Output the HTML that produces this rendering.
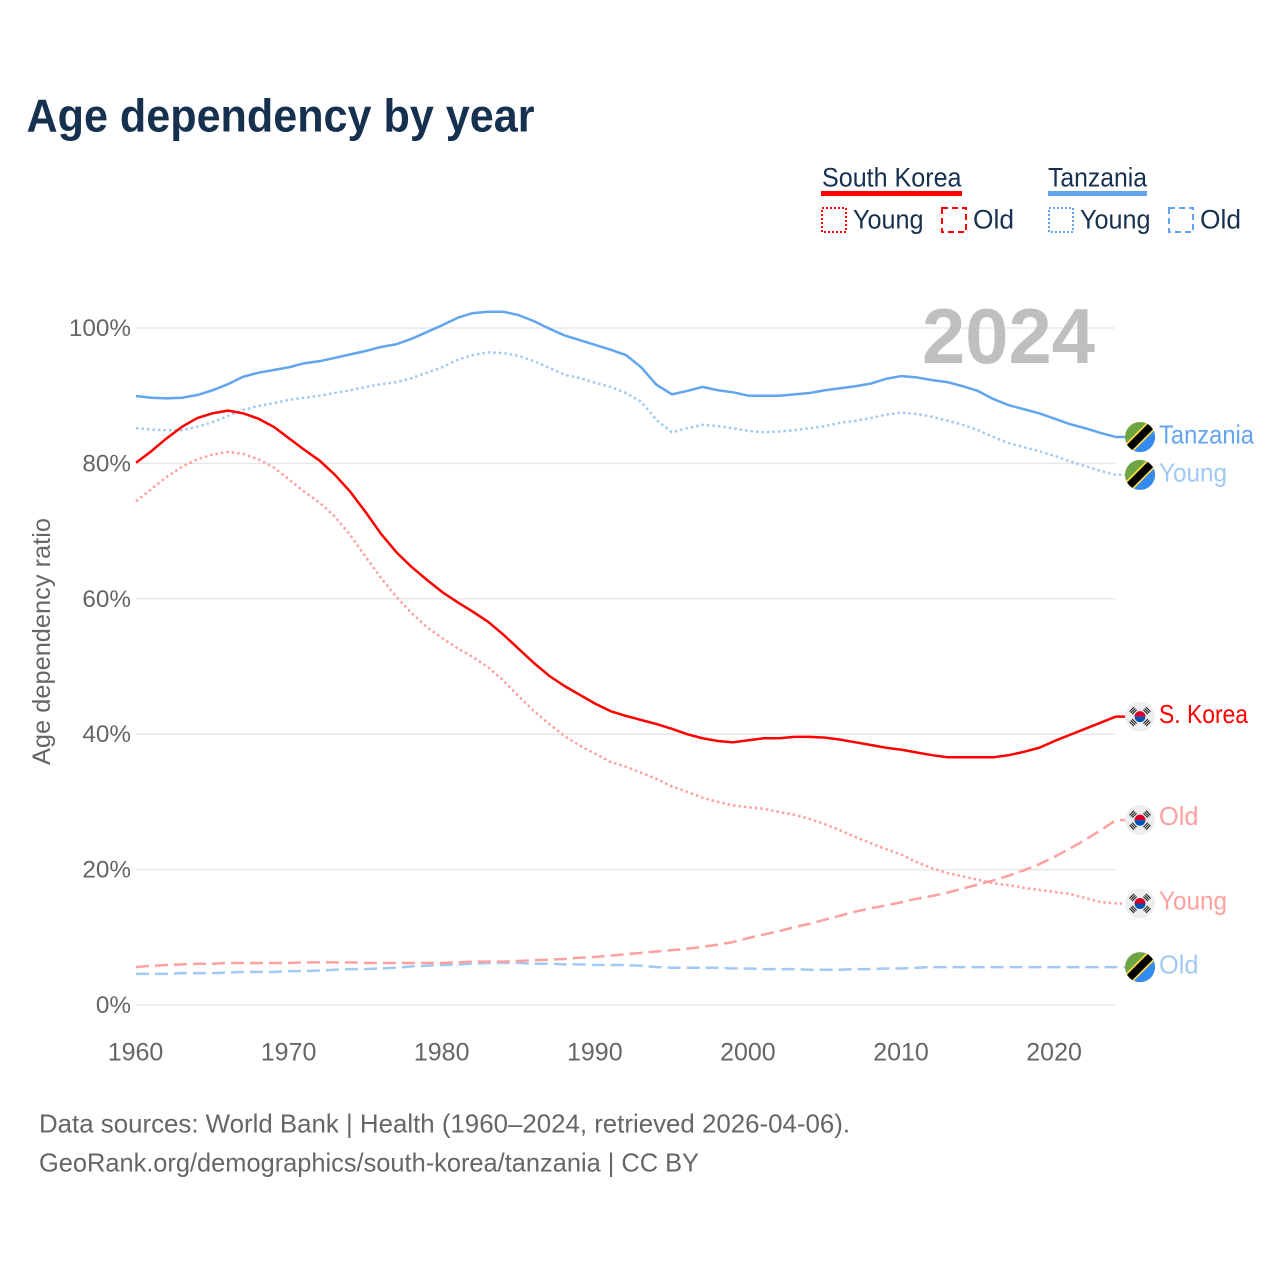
<!DOCTYPE html>
<html lang="en">
<head>
<meta charset="utf-8">
<title>Age dependency by year</title>
<style>
html,body{margin:0;padding:0;background:#fff;}
svg{display:block;font-family:"Liberation Sans",sans-serif;}
</style>
</head>
<body>
<svg id="chart" width="1280" height="1280" viewBox="0 0 1280 1280" xmlns="http://www.w3.org/2000/svg">
  <defs>
    <clipPath id="flag-clip"><circle cx="0" cy="0" r="15"/></clipPath>
    <g id="flag-tz">
      <g clip-path="url(#flag-clip)">
        <rect x="-15" y="-15" width="30" height="30" fill="#6da544"/>
        <polygon points="15,-15 15,15 -15,15" fill="#338af3"/>
        <line x1="-15" y1="15" x2="15" y2="-15" stroke="#ffda44" stroke-width="11"/>
        <line x1="-15" y1="15" x2="15" y2="-15" stroke="#000" stroke-width="7.5"/>
      </g>
    </g>
    <g id="flag-kr">
      <circle r="15" fill="#eeeeee"/>
      <path d="M-5.5,0 A5.5,5.5 0 0 1 5.5,0 Z" fill="#d80027"/>
      <path d="M-5.5,0 A5.5,5.5 0 0 0 5.5,0 Z" fill="#0052b4"/>
      <g stroke="#222" stroke-width="1.1" fill="none">
        <path d="M-10.5,-5 L-6,-9.5 M-9.2,-3.7 L-4.7,-8.2 M-7.9,-2.4 L-3.4,-6.9"/>
        <path d="M10.5,-5 L6,-9.5 M9.2,-3.7 L4.7,-8.2 M7.9,-2.4 L3.4,-6.9"/>
        <path d="M-10.5,5 L-6,9.5 M-9.2,3.7 L-4.7,8.2 M-7.9,2.4 L-3.4,6.9"/>
        <path d="M10.5,5 L6,9.5 M9.2,3.7 L4.7,8.2 M7.9,2.4 L3.4,6.9"/>
      </g>
    </g>
  </defs>

  <text x="26.5" y="131.5" font-size="46" font-weight="700" fill="#16304f" textLength="508" lengthAdjust="spacingAndGlyphs">Age dependency by year</text>

  <g font-size="27" fill="#16304f">
    <g>
      <text x="822" y="186.5" textLength="139.5" lengthAdjust="spacingAndGlyphs">South Korea</text>
      <rect x="821" y="191" width="141" height="5" fill="#ff0000"/>
      <rect x="822" y="208" width="24" height="24" fill="none" stroke="#ff0000" stroke-width="2" stroke-dasharray="2 2"/>
      <text x="853" y="228.5" textLength="70.5" lengthAdjust="spacingAndGlyphs">Young</text>
      <rect x="942" y="208" width="24" height="24" fill="none" stroke="#ff0000" stroke-width="2" stroke-dasharray="6 4"/>
      <text x="973" y="228.5" textLength="41" lengthAdjust="spacingAndGlyphs">Old</text>
    </g>
    <g>
      <text x="1048" y="186.5" textLength="99" lengthAdjust="spacingAndGlyphs">Tanzania</text>
      <rect x="1048" y="191" width="99" height="5" fill="#62a5ee"/>
      <rect x="1049" y="208" width="24" height="24" fill="none" stroke="#62a5ee" stroke-width="2" stroke-dasharray="2 2"/>
      <text x="1080" y="228.5" textLength="70.5" lengthAdjust="spacingAndGlyphs">Young</text>
      <rect x="1169" y="208" width="24" height="24" fill="none" stroke="#62a5ee" stroke-width="2" stroke-dasharray="6 4"/>
      <text x="1200" y="228.5" textLength="41" lengthAdjust="spacingAndGlyphs">Old</text>
    </g>
  </g>

  <g id="grid"></g>
  <text x="922" y="363" font-size="78" font-weight="700" fill="#bfbfbf" textLength="173" lengthAdjust="spacingAndGlyphs">2024</text>
  <g id="yticks" font-size="24.3" fill="#666666" text-anchor="end"></g>
  <g id="xticks" font-size="25" fill="#666666" text-anchor="middle"></g>
  <text transform="translate(50,641.5) rotate(-90)" font-size="25" fill="#666666" text-anchor="middle" textLength="247" lengthAdjust="spacingAndGlyphs">Age dependency ratio</text>
  <g id="series"></g>
  <g id="ends"></g>

  <text x="39" y="1132.5" font-size="26" fill="#666666" textLength="811" lengthAdjust="spacingAndGlyphs">Data sources: World Bank | Health (1960–2024, retrieved 2026-04-06).</text>
  <text x="39" y="1171.5" font-size="26" fill="#666666" textLength="660" lengthAdjust="spacingAndGlyphs">GeoRank.org/demographics/south-korea/tanzania | CC BY</text>
</svg>
<script>
var firstYear = 1960;
var yTickValues = [0, 20, 40, 60, 80, 100];
var yTickLabels = ["0%", "20%", "40%", "60%", "80%", "100%"];
var xTickValues = [1960, 1970, 1980, 1990, 2000, 2010, 2020];
var xTickLabels = ["1960", "1970", "1980", "1990", "2000", "2010", "2020"];

var tanzaniaTotal = [89.95,89.7,89.6,89.7,90.1,90.8,91.7,92.8,93.4,93.8,94.2,94.8,95.1,95.6,96.1,96.6,97.2,97.6,98.4,99.4,100.4,101.5,102.2,102.4,102.4,101.9,101.0,99.9,98.9,98.2,97.5,96.8,96.0,94.2,91.6,90.2,90.7,91.3,90.8,90.5,90.0,90.0,90.0,90.2,90.4,90.8,91.1,91.4,91.8,92.5,92.9,92.7,92.3,92.0,91.4,90.7,89.5,88.6,88.0,87.4,86.6,85.8,85.2,84.5,83.9];
var tanzaniaYoung = [85.2,85.0,84.9,84.9,85.4,86.1,87.0,87.9,88.5,88.9,89.4,89.7,90.0,90.4,90.8,91.3,91.7,92.0,92.6,93.4,94.2,95.3,96.0,96.4,96.3,95.9,95.1,94.1,93.1,92.6,91.9,91.3,90.4,89.1,86.4,84.6,85.2,85.7,85.5,85.2,84.8,84.6,84.7,84.9,85.2,85.5,86.0,86.3,86.7,87.2,87.5,87.3,86.9,86.3,85.7,84.9,83.9,83.0,82.4,81.8,81.1,80.3,79.6,78.9,78.3];
var tanzaniaOld = [4.6,4.6,4.6,4.7,4.7,4.7,4.8,4.9,4.9,4.9,5.0,5.0,5.1,5.2,5.3,5.3,5.4,5.5,5.7,5.8,5.9,6.0,6.1,6.2,6.2,6.2,6.1,6.1,6.0,6.0,5.9,5.9,5.9,5.8,5.6,5.5,5.5,5.5,5.5,5.4,5.4,5.3,5.3,5.3,5.2,5.2,5.2,5.3,5.3,5.4,5.4,5.5,5.6,5.6,5.6,5.6,5.6,5.6,5.6,5.6,5.6,5.6,5.6,5.6,5.6];
var koreaTotal = [80.1,81.8,83.7,85.4,86.7,87.4,87.8,87.4,86.6,85.4,83.7,82.0,80.4,78.3,75.8,72.8,69.6,66.9,64.7,62.8,61.0,59.5,58.1,56.6,54.7,52.6,50.5,48.6,47.1,45.8,44.5,43.4,42.7,42.1,41.5,40.8,40.0,39.4,39.0,38.8,39.1,39.4,39.4,39.6,39.6,39.5,39.2,38.8,38.4,38.0,37.7,37.3,36.9,36.6,36.6,36.6,36.6,36.9,37.4,38.0,39.0,39.9,40.8,41.7,42.6];
var koreaYoung = [74.4,76.2,78.0,79.5,80.6,81.3,81.7,81.4,80.6,79.4,77.6,75.8,74.2,72.1,69.4,66.2,63.1,60.3,57.9,55.8,54.2,52.7,51.4,49.9,47.9,45.6,43.4,41.5,39.7,38.3,37.1,35.9,35.2,34.3,33.4,32.3,31.5,30.6,30.0,29.5,29.2,29.0,28.5,28.1,27.5,26.7,25.8,24.8,23.9,23.0,22.2,21.1,20.2,19.5,19.0,18.5,18.0,17.7,17.3,17.0,16.7,16.4,15.8,15.2,15.0];
var koreaOld = [5.6,5.8,5.9,6.0,6.1,6.1,6.2,6.2,6.2,6.2,6.2,6.3,6.3,6.3,6.3,6.2,6.2,6.2,6.2,6.2,6.2,6.3,6.4,6.4,6.4,6.5,6.6,6.7,6.8,7.0,7.1,7.3,7.5,7.7,7.9,8.1,8.3,8.6,8.9,9.3,9.9,10.4,10.9,11.5,12.0,12.6,13.2,13.8,14.3,14.7,15.2,15.7,16.1,16.6,17.2,17.8,18.4,19.1,19.9,20.8,21.9,23.1,24.4,25.8,27.3];

var NS = "http://www.w3.org/2000/svg";
function xScale(year) { return 136 + (year - 1960) * 15.31; }
function yScale(v) { return 1005 - v * 6.77; }
function make(tag, attrs, parent, text) {
  var el = document.createElementNS(NS, tag);
  for (var k in attrs) el.setAttribute(k, attrs[k]);
  if (text !== undefined) el.textContent = text;
  parent.appendChild(el);
  return el;
}

var gridG = document.getElementById("grid");
var yG = document.getElementById("yticks");
yTickValues.forEach(function (v, i) {
  var ln = make("line", {x1: 136, x2: 1115, y1: yScale(v), y2: yScale(v), stroke: "#e8e8e8", "stroke-width": 1.5}, gridG);
  
  
  var t = make("text", {x: 131, y: yScale(v) + 8}, yG, yTickLabels[i]);
  
  
});

var xG = document.getElementById("xticks");
xTickValues.forEach(function (year, i) {
  var t = make("text", {x: xScale(year) - 0.5, y: 1060.5}, xG, xTickLabels[i]);
  
  
});

function drawLine(values, color, width, dash, name) {
  var pts = values.map(function (v, i) {
    return xScale(firstYear + i).toFixed(2) + "," + yScale(v).toFixed(2);
  });
  pts.push("1125," + yScale(values[values.length - 1]).toFixed(2));
  var attrs = {points: pts.join(" "), fill: "none", stroke: color, "stroke-width": width, "stroke-linejoin": "round"};
  if (dash) attrs["stroke-dasharray"] = dash;
  var line = make("polyline", attrs, document.getElementById("series"));
  
  
}

function drawEnd(values, flagId, label, color, textW, baselineOffset, name) {
  var y = yScale(values[values.length - 1]);
  var endsG = document.getElementById("ends");
  var flag = make("use", {href: "#" + flagId, x: 1140, y: y}, endsG);
  
  
  var t = make("text", {x: 1159, y: y + baselineOffset, "font-size": 26, fill: color, textLength: textW, lengthAdjust: "spacingAndGlyphs"}, endsG, label);
  
  
}

drawLine(tanzaniaOld, "#a1c9f4", 2.5, "13 6", "tanzania-old-line");
drawLine(koreaOld, "#ffa0a0", 2.5, "13 6", "south-korea-old-line");
drawLine(tanzaniaYoung, "#a1c9f4", 2.5, "2.5 3", "tanzania-young-line");
drawLine(koreaYoung, "#ffa0a0", 2.5, "2.5 3", "south-korea-young-line");
drawLine(tanzaniaTotal, "#62a5ee", 2.5, null, "tanzania-total-line");
drawLine(koreaTotal, "#ff0000", 2.5, null, "south-korea-total-line");

drawEnd(tanzaniaTotal, "flag-tz", "Tanzania", "#62a5ee", 95, 6.5, "tanzania-total");
drawEnd(tanzaniaYoung, "flag-tz", "Young", "#a1c9f4", 68, 6.5, "tanzania-young");
drawEnd(koreaTotal, "flag-kr", "S. Korea", "#ff0000", 89, 6.5, "south-korea-total");
drawEnd(koreaOld, "flag-kr", "Old", "#ffa0a0", 39.5, 5, "south-korea-old");
drawEnd(koreaYoung, "flag-kr", "Young", "#ffa0a0", 68, 6, "south-korea-young");
drawEnd(tanzaniaOld, "flag-tz", "Old", "#a1c9f4", 39.5, 6.5, "tanzania-old");
</script>
</body>
</html>
